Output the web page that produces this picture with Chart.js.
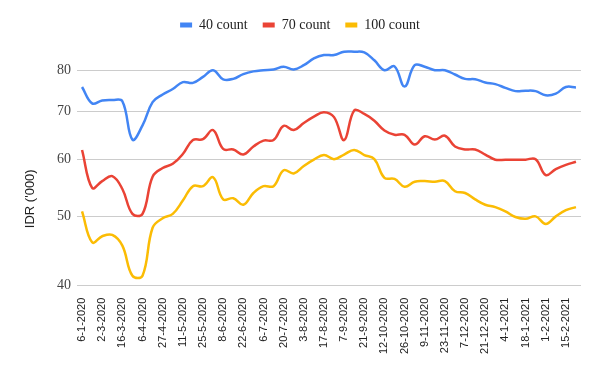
<!DOCTYPE html>
<html>
<head>
<meta charset="utf-8">
<script src="https://cdn.jsdelivr.net/npm/chart.js@4.4.1/dist/chart.umd.min.js"></script>
<style>
  html, body { margin: 0; padding: 0; background: #fff; }
  #wrap { width: 600px; height: 371px; position: relative; }
</style>
</head>
<body>
<div id="wrap"><canvas id="chart"></canvas></div>
<script>
/* weekly dates - only every other one is labelled on the axis */
const DATES = [
  '6-1-2020', '3-2-2020', '2-3-2020', '9-3-2020', '16-3-2020', '23-3-2020', '6-4-2020', '13-4-2020',
  '27-4-2020', '4-5-2020', '11-5-2020', '18-5-2020', '25-5-2020', '1-6-2020', '8-6-2020', '15-6-2020',
  '22-6-2020', '29-6-2020', '6-7-2020', '13-7-2020', '20-7-2020', '27-7-2020', '3-8-2020', '10-8-2020',
  '17-8-2020', '24-8-2020', '7-9-2020', '14-9-2020', '21-9-2020', '5-10-2020', '12-10-2020', '19-10-2020',
  '26-10-2020', '2-11-2020', '9-11-2020', '16-11-2020', '23-11-2020', '30-11-2020', '7-12-2020', '14-12-2020',
  '21-12-2020', '28-12-2020', '4-1-2021', '11-1-2021', '18-1-2021', '25-1-2021', '1-2-2021', '8-2-2021',
  '15-2-2021', '22-2-2021'
];

const COUNT_40 = [
  75.8, 71.9, 72.6, 72.7, 72.4, 64.0, 67.0, 72.2, 74.0, 75.3,
  77.0, 76.8, 78.3, 80.0, 77.7, 77.8, 79.0, 79.7, 80.0, 80.2,
  80.9, 80.2, 81.3, 83.1, 84.0, 84.0, 84.9, 84.9, 84.7, 82.6,
  80.0, 81.0, 75.9, 81.3, 80.9, 80.0, 80.0, 78.9, 77.8, 77.7,
  76.9, 76.5, 75.6, 74.8, 74.9, 74.8, 73.8, 74.2, 75.8, 75.7
];

const COUNT_70 = [
  61.9, 54.8, 56.0, 56.9, 54.6, 50.4, 50.4, 56.8, 58.4, 59.2,
  61.1, 63.9, 64.1, 66.0, 62.1, 62.0, 61.0, 62.6, 63.8, 63.9,
  66.9, 66.0, 67.5, 68.9, 69.9, 68.8, 63.9, 70.3, 69.5, 68.0,
  65.9, 65.0, 65.0, 63.0, 64.7, 64.0, 64.8, 62.6, 62.0, 62.0,
  61.0, 60.0, 60.0, 60.0, 60.0, 60.1, 57.1, 58.2, 59.0, 59.6
];

const COUNT_100 = [
  50.8, 46.0, 46.9, 47.1, 45.5, 41.3, 41.3, 48.2, 49.7, 50.4,
  52.6, 55.1, 55.1, 56.7, 52.8, 53.0, 51.9, 53.9, 55.1, 55.1,
  58.0, 57.4, 58.8, 60.0, 60.9, 60.1, 61.0, 61.9, 60.9, 60.1,
  56.6, 56.4, 55.0, 55.9, 56.0, 55.9, 56.0, 54.2, 53.9, 52.8,
  51.9, 51.5, 50.8, 49.9, 49.6, 50.0, 48.8, 50.0, 51.0, 51.5
];

const SERIES_NAMES = ['40 count', '70 count', '100 count'];
const COLORS = ['#4285F4', '#EA4335', '#FBBC04'];
const Y_TICKS = [40, 50, 60, 70, 80];
const Y_TITLE = "IDR ('000)";

const SERIF = '"Liberation Serif", "DejaVu Serif", serif';
const SANS = '"Liberation Sans", Arial, sans-serif';

/* draws the y axis title where the original puts it (a bit below centre) */
const yTitlePlugin = {
  id: 'yTitle',
  afterDraw(chart) {
    const ctx = chart.ctx;
    ctx.save();
    ctx.translate(30, chart.chartArea.bottom - 87);
    ctx.rotate(-Math.PI / 2);
    ctx.font = '13px ' + SANS;
    ctx.fillStyle = '#222';
    ctx.textAlign = 'center';
    ctx.textBaseline = 'middle';
    ctx.fillText(Y_TITLE, 0, 0);
    ctx.restore();
  }
};

function makeSet(label, data, color) {
  return {
    label, data,
    borderColor: color,
    backgroundColor: color,
    borderWidth: 2.5,
    pointRadius: 0,
    pointHoverRadius: 0,
    tension: 0.4,
    fill: false
  };
}

new Chart(document.getElementById('chart'), {
  type: 'line',
  data: {
    labels: DATES,
    datasets: [
      makeSet(SERIES_NAMES[0], COUNT_40, COLORS[0]),
      makeSet(SERIES_NAMES[1], COUNT_70, COLORS[1]),
      makeSet(SERIES_NAMES[2], COUNT_100, COLORS[2])
    ]
  },
  options: {
    responsive: true,
    maintainAspectRatio: false,
    animation: false,
    // symmetric side padding keeps the legend centred on the page
    layout: { padding: { left: 19, right: 19, top: 3, bottom: 13 } },
    plugins: {
      legend: {
        position: 'top',
        labels: {
          font: { family: SERIF, size: 14 },
          color: '#222',
          boxWidth: 12,
          boxHeight: 5,
          padding: 15,
          generateLabels(chart) {
            const items = Chart.defaults.plugins.legend.labels.generateLabels(chart);
            items.forEach(it => { it.lineWidth = 0; });
            return items;
          }
        }
      },
      tooltip: { enabled: false }
    },
    scales: {
      x: {
        offset: true,
        grid: { display: false },
        border: { display: false },
        ticks: {
          autoSkip: false,
          maxRotation: 90,
          minRotation: 90,
          padding: 4,
          color: '#222',
          font: { family: SANS, size: 11 },
          callback: (v, i) => (i % 2 === 0 ? DATES[i] : '')
        }
      },
      y: {
        type: 'logarithmic',
        min: 40,
        max: 87.6,
        afterBuildTicks: axis => { axis.ticks = Y_TICKS.map(v => ({ value: v })); },
        afterFit: axis => { axis.width = 58; },
        grid: { color: '#cccccc', drawTicks: false },
        border: { display: false },
        ticks: {
          padding: 6,
          color: '#444',
          font: { family: SERIF, size: 14 },
          callback: v => String(v)
        }
      }
    }
  },
  plugins: [yTitlePlugin]
});
</script>
</body>
</html>
